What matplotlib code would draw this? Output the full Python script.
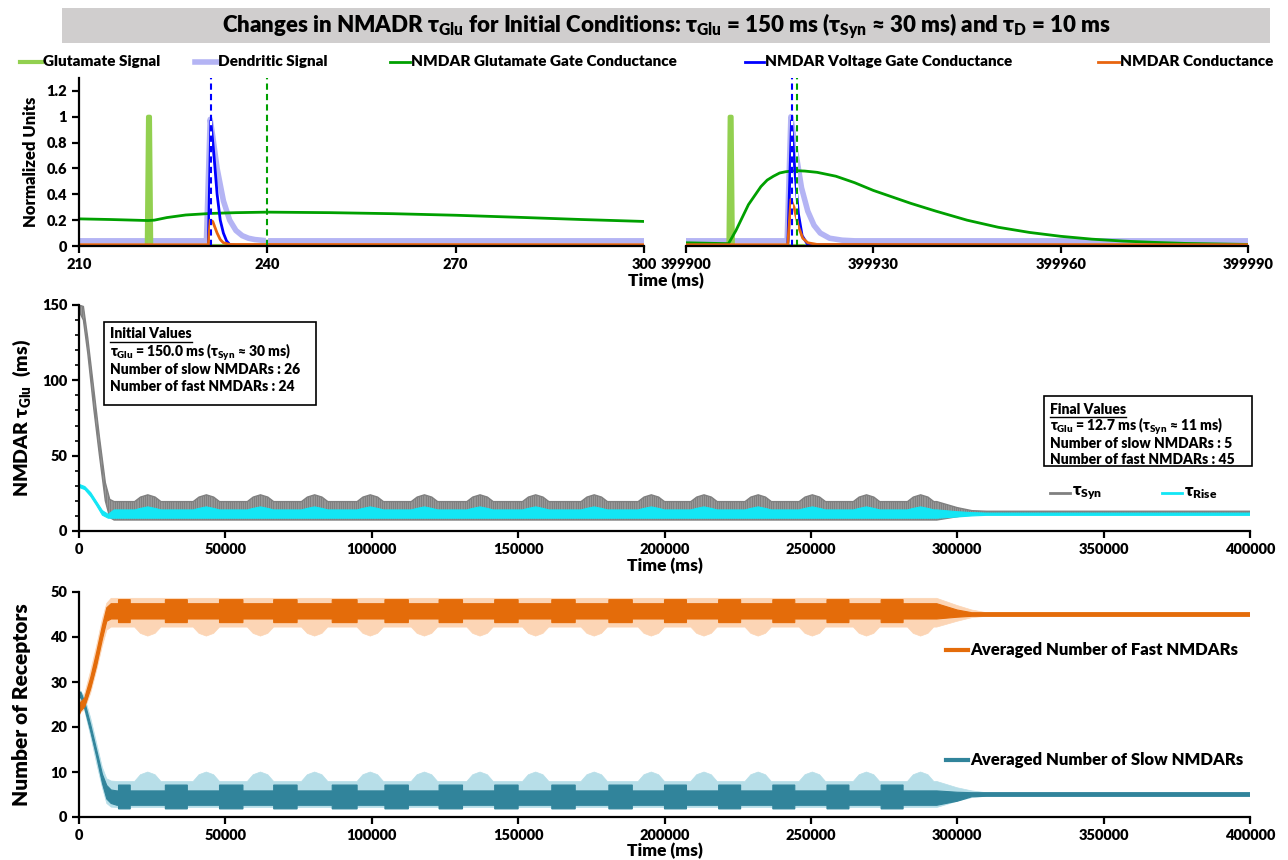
import matplotlib
matplotlib.use("Agg")
import matplotlib.pyplot as plt
from matplotlib.lines import Line2D
from matplotlib.patches import Rectangle
import numpy as np

plt.rcParams['font.family'] = ['Lato', 'DejaVu Sans']
plt.rcParams['font.weight'] = 'heavy'
plt.rcParams['mathtext.default'] = 'regular'
plt.rcParams['hatch.linewidth'] = 1.2

W, H = 1288, 860
BOLD = 'heavy'

# ---------------- top panels (single event traces) ----------------
glu_t_a = [210, 220.8, 221.0, 221.3, 221.5, 300]
glu_v_a = [0, 0, 1.0, 1.0, 0, 0]
dend_t_a = [210, 230.3, 230.9, 231.3, 232, 233, 234, 235, 236, 237, 238, 240, 300]
dend_v_a = [0.04, 0.04, 0.98, 0.85, 0.6, 0.35, 0.2, 0.12, 0.08, 0.06, 0.05, 0.04, 0.04]
gate_t_a = [210, 215, 221, 222, 224, 227, 231, 235, 240, 250, 260, 270, 280, 290, 300]
gate_v_a = [0.21, 0.205, 0.197, 0.2, 0.22, 0.24, 0.252, 0.258, 0.262, 0.258, 0.25, 0.238, 0.222, 0.205, 0.19]
volt_t_a = [210, 230.6, 231.0, 231.5, 232, 232.5, 233, 233.5, 234, 235, 300]
volt_v_a = [0.005, 0.005, 0.97, 0.7, 0.4, 0.2, 0.1, 0.04, 0.012, 0.005, 0.005]
cond_t_a = [210, 230.6, 230.9, 231.3, 232, 232.5, 233, 234, 300]
cond_v_a = [0.01, 0.01, 0.2, 0.19, 0.1, 0.05, 0.025, 0.012, 0.01]
volt_peak_a, gate_peak_a = 231, 240

glu_t_b = [399900, 399906.8, 399907.0, 399907.3, 399907.5, 399990]
glu_v_b = [0, 0, 1.0, 1.0, 0, 0]
dend_t_b = [399900, 399916.2, 399916.8, 399917.5, 399918.5, 399919.5, 399920.5, 399921.5, 399923, 399925, 399927, 399990]
dend_v_b = [0.04, 0.04, 1.0, 0.75, 0.45, 0.27, 0.16, 0.1, 0.06, 0.045, 0.04, 0.04]
gate_t_b = [399900, 399906.8, 399908, 399909, 399910, 399911, 399912, 399913, 399914, 399915, 399916,
            399917.5, 399919, 399921, 399924, 399927, 399930, 399933, 399936, 399940, 399945, 399950,
            399955, 399960, 399965, 399970, 399975, 399980, 399990]
gate_v_b = [0.025, 0.018, 0.12, 0.22, 0.32, 0.39, 0.46, 0.51, 0.54, 0.565, 0.575,
            0.583, 0.58, 0.57, 0.54, 0.49, 0.43, 0.38, 0.33, 0.27, 0.2, 0.145,
            0.105, 0.075, 0.053, 0.038, 0.028, 0.02, 0.012]
volt_t_b = [399900, 399916.3, 399916.9, 399917.4, 399918, 399918.6, 399919.5, 399990]
volt_v_b = [0.003, 0.003, 0.97, 0.6, 0.25, 0.08, 0.01, 0.003]
cond_t_b = [399900, 399916.3, 399916.8, 399917.3, 399918, 399918.7, 399919.5, 399921, 399990]
cond_v_b = [0.01, 0.01, 0.36, 0.3, 0.15, 0.06, 0.025, 0.012, 0.01]
volt_peak_b, gate_peak_b = 399917, 399917.8

# ---------------- long-run envelopes ----------------
bump_t = [23500, 43500, 62000, 80500, 99500, 118000, 137000, 156000, 176000,
          195500, 213500, 232000, 250500, 269000, 287500]
bump_dt = [-4500, -2500, 0, 2500, 4500]
blk_start = [13500, 29500, 48000, 66500, 86500, 104500, 123000, 142000, 161500,
             181000, 200000, 218500, 237000, 255500, 274000]
blk_end = [17500, 37000, 56000, 74500, 95000, 112500, 131000, 150000, 169500,
           189000, 207500, 226000, 244500, 263000, 281500]
end_t = [293000, 300000, 305000, 310000, 400000]

syn_t0 = [0, 1500, 3000, 5000, 7000, 9000, 10500, 12000]
syn_hi0 = [150, 149, 128, 95, 62, 32, 21, 19.5]
syn_lo0 = [146, 140, 118, 82, 50, 20, 9, 7.3]
syn_bump = [19.5, 22.5, 24, 22.5, 19.5]
syn_hi1 = [19.5, 15.5, 13.5, 13.1, 13.1]
syn_lo1 = [7.3, 9.5, 11.2, 11.9, 11.9]

rise_t0 = [0, 2000, 4000, 6000, 8000, 10000, 12000]
rise_hi0 = [31, 29.5, 25.5, 19.5, 13.5, 11, 14]
rise_lo0 = [29, 27.5, 23, 17, 10.5, 8.5, 8.5]
rise_bump = [14, 15, 16, 15, 14]
rise_hi1 = [14, 12.8, 12.2, 11.9, 11.9]
rise_lo1 = [8.5, 9.3, 10.0, 10.4, 10.4]

rec_t0 = [0, 600, 2000, 4000, 6000, 8000, 9500, 11000, 13000]
fastL_hi0 = [24.3, 26, 27.5, 32.5, 38, 44, 47.5, 48.6, 48.6]
fastL_lo0 = [22.5, 23.2, 24, 27.5, 32.5, 38, 41.5, 42.2, 42.2]
fastL_bump = [42.2, 40.8, 40.2, 40.8, 42.2]
fastL_hi1 = [48.6, 47, 46, 45.4, 45.4]
fastL_lo1 = [42.2, 43.5, 44.3, 44.6, 44.6]
fastD_hi0 = [24, 25.5, 26.5, 31, 36.5, 42.5, 46.5, 47.4, 47.4]
fastD_lo0 = [22.5, 23.5, 24.5, 28.5, 33.5, 39.5, 43.5, 44.0, 44.0]
fastD_blk = (48.3, 43.2)
fastD_hi1 = [47.4, 46.0, 45.4, 45.4, 45.4]
fastD_lo1 = [44.0, 44.4, 44.6, 44.6, 44.6]

slowL_hi0 = [27.2, 28, 26.5, 22, 16.5, 11, 8.5, 8, 7.9]
slowL_lo0 = [26, 26.5, 23.5, 18, 12, 6.5, 3, 2.2, 2.1]
slowL_bump = [7.9, 9.4, 10.0, 9.4, 7.9]
slowL_hi1 = [7.9, 6.5, 5.8, 5.4, 5.4]
slowL_lo1 = [2.1, 3.5, 4.3, 4.6, 4.6]
slowD_hi0 = [27, 27.8, 25.5, 20.5, 15, 9.5, 7, 6, 5.8]
slowD_lo0 = [26, 26.8, 24, 19, 13.5, 7.5, 4, 3, 2.6]
slowD_blk = (7.1, 1.8)
slowD_hi1 = [5.8, 5.5, 5.4, 5.4, 5.4]
slowD_lo1 = [2.6, 3.5, 4.5, 4.6, 4.6]

init_glu, init_syn, init_slow, init_fast = "150.0", "30", 26, 24
final_glu, final_syn, final_slow, final_fast = "12.7", "11", 5, 45

c_glu, c_dend, c_gate, c_volt, c_cond = '#92d050', '#b4b4f4', '#00a000', '#0000ff', '#e8650f'
c_syn, c_rise = '#808080', '#12e6f5'
c_fastD, c_fastL = '#e46c0a', '#fcd5b5'
c_slowD, c_slowL = '#31849b', '#b7dee8'


def bumped(profile):
    ts, vs = [], []
    for c in bump_t:
        for dt, v in zip(bump_dt, profile):
            ts.append(c + dt)
            vs.append(v)
    return ts, vs


def blocked(base, high):
    ts, vs = [], []
    for a, b in zip(blk_start, blk_end):
        ts += [a, a, b, b]
        vs += [base, high, high, base]
    return ts, vs


def band(ax, t0, lo0, hi0, mid_lo, mid_hi, lo1, hi1, **kw):
    th = list(t0) + mid_hi[0] + end_t
    vh = list(hi0) + mid_hi[1] + list(hi1)
    tl = list(t0) + mid_lo[0] + end_t
    vl = list(lo0) + mid_lo[1] + list(lo1)
    xs = np.r_[th, tl[::-1]]
    ys = np.r_[vh, vl[::-1]]
    return ax.fill(xs, ys, **kw)


fig = plt.figure(figsize=(W / 100, H / 100), dpi=100)


def ax_at(x0, y0, x1, y1):
    return fig.add_axes([x0 / W, 1 - y1 / H, (x1 - x0) / W, (y1 - y0) / H])


def style(ax, left=True):
    for s in ['top', 'right']:
        ax.spines[s].set_visible(False)
    ax.spines['bottom'].set_linewidth(1.6)
    ax.spines['left'].set_linewidth(1.6)
    if not left:
        ax.spines['left'].set_visible(False)
        ax.set_yticks([])
    ax.tick_params(width=1.6, length=5, labelsize=10.5)
    for lab in ax.get_xticklabels() + ax.get_yticklabels():
        lab.set_fontweight(BOLD)


# title
fig.add_artist(Rectangle((62 / W, 1 - 43 / H), (1270 - 62) / W, 35 / H,
                         transform=fig.transFigure, facecolor='#d0cece', edgecolor='none'))
fig.text(666 / W, 1 - 26 / H,
         "Changes in NMADR τ$_{Glu}$ for Initial Conditions: τ$_{Glu}$ = 150 ms (τ$_{Syn}$ ≈ 30 ms) and τ$_{D}$ = 10 ms",
         ha='center', va='center', fontsize=16, fontweight=BOLD)

# top legend
top_leg = [("Glutamate Signal", c_glu, 3, 20, 42),
           ("Dendritic Signal", c_dend, 4, 195, 217),
           ("NMDAR Glutamate Gate Conductance", c_gate, 2, 390, 410),
           ("NMDAR Voltage Gate Conductance", c_volt, 2, 745, 764),
           ("NMDAR Conductance", c_cond, 2, 1098, 1119)]
for lab, col, lw, hx0, hx1 in top_leg:
    fig.add_artist(Line2D([hx0 / W, hx1 / W], [1 - 62 / H] * 2, color=col, lw=lw,
                          transform=fig.transFigure))
    fig.text((hx1 + 1) / W, 1 - 62 / H, lab, ha='left', va='center', fontsize=11, fontweight=BOLD)

# top-left
axa = ax_at(79, 78, 644, 246)
axa.plot(dend_t_a, dend_v_a, color=c_dend, lw=4)
axa.plot(glu_t_a, glu_v_a, color=c_glu, lw=3)
axa.plot(gate_t_a, gate_v_a, color=c_gate, lw=2)
axa.plot(volt_t_a, volt_v_a, color=c_volt, lw=2)
axa.plot(cond_t_a, cond_v_a, color=c_cond, lw=2)
for xv, col in [(volt_peak_a, c_volt), (gate_peak_a, c_gate)]:
    axa.axvline(xv, color='white', lw=1.5)
    axa.axvline(xv, color=col, lw=1.5, ls=(0, (3, 2)))
axa.set_xlim(210, 300)
axa.set_ylim(0, 1.3)
axa.set_xticks([210, 240, 270, 300])
axa.set_yticks([0, 0.2, 0.4, 0.6, 0.8, 1.0, 1.2])
axa.set_yticklabels(['0', '0.2', '0.4', '0.6', '0.8', '1', '1.2'])
axa.set_ylabel("Normalized Units", fontsize=12, fontweight=BOLD)
axa.yaxis.set_label_coords(-0.07, 0.5)
style(axa)

# top-right
axb = ax_at(686, 78, 1248, 246)
axb.plot(dend_t_b, dend_v_b, color=c_dend, lw=4)
axb.plot(glu_t_b, glu_v_b, color=c_glu, lw=3)
axb.plot(gate_t_b, gate_v_b, color=c_gate, lw=2)
axb.plot(volt_t_b, volt_v_b, color=c_volt, lw=2)
axb.plot(cond_t_b, cond_v_b, color=c_cond, lw=2)
for xv, col in [(volt_peak_b, c_volt), (gate_peak_b, c_gate)]:
    axb.axvline(xv, color='white', lw=1.5)
    axb.axvline(xv, color=col, lw=1.5, ls=(0, (3, 2)))
axb.set_xlim(399900, 399990)
axb.set_ylim(0, 1.3)
axb.set_xticks([399900, 399930, 399960, 399990])
axb.ticklabel_format(useOffset=False, style='plain', axis='x')
style(axb, left=False)
fig.text(666 / W, 1 - 281 / H, "Time (ms)", ha='center', va='center', fontsize=12.5, fontweight=BOLD)

# middle
axm = ax_at(79, 305, 1250, 531)
band(axm, syn_t0, syn_lo0, syn_hi0, ([], []), bumped(syn_bump), syn_lo1, syn_hi1,
     facecolor='none', edgecolor=c_syn, hatch='|' * 9, linewidth=0)
band(axm, syn_t0, syn_lo0, syn_hi0, ([], []), bumped(syn_bump), syn_lo1, syn_hi1,
     facecolor='none', edgecolor=c_syn, linewidth=1.0)
band(axm, rise_t0, rise_lo0, rise_hi0, ([], []), bumped(rise_bump), rise_lo1, rise_hi1,
     facecolor=c_rise, edgecolor=c_rise, linewidth=0.8)
axm.set_xlim(0, 400000)
axm.set_ylim(0, 150)
axm.set_xticks(np.arange(0, 400001, 50000))
axm.set_yticks([0, 50, 100, 150])
axm.set_yticks(np.arange(0, 151, 10), minor=True)
axm.tick_params(which='minor', length=3, width=1.2)
axm.set_ylabel("NMDAR τ$_{Glu}$  (ms)", fontsize=14, fontweight=BOLD)
axm.yaxis.set_label_coords(-0.039, 0.5)
axm.set_xlabel("Time (ms)", fontsize=12.5, fontweight=BOLD)
axm.xaxis.set_label_coords(0.5, -0.12)
style(axm)

axm.add_patch(Rectangle((0.0213, 0.558), 0.181, 0.367, transform=axm.transAxes,
                        facecolor='white', edgecolor='black', lw=1.2, zorder=5))
axm.add_patch(Rectangle((0.824, 0.288), 0.178, 0.309, transform=axm.transAxes,
                        facecolor='white', edgecolor='black', lw=1.2, zorder=5, clip_on=False))
init_lines = ["Initial Values",
              f"τ$_{{Glu}}$ = {init_glu} ms (τ$_{{Syn}}$ ≈ {init_syn} ms)",
              f"Number of slow NMDARs : {init_slow}",
              f"Number of fast NMDARs : {init_fast}"]
final_lines = ["Final Values",
               f"τ$_{{Glu}}$ = {final_glu} ms (τ$_{{Syn}}$ ≈ {final_syn} ms)",
               f"Number of slow NMDARs : {final_slow}",
               f"Number of fast NMDARs : {final_fast}"]
heads = []
for lines, x0, ys in [(init_lines, 110, [334, 352, 370, 387]), (final_lines, 1050, [409, 426, 443, 459])]:
    for i, (s, yy) in enumerate(zip(lines, ys)):
        t = fig.text(x0 / W, 1 - yy / H, s, ha='left', va='center', fontsize=10,
                     fontweight=BOLD, zorder=6)
        if i == 0:
            heads.append(t)

mid_leg = [("τ$_{Syn}$", c_syn, 1050, 1070), ("τ$_{Rise}$", c_rise, 1162, 1182)]
for lab, col, hx0, hx1 in mid_leg:
    fig.add_artist(Line2D([hx0 / W, hx1 / W], [1 - 493 / H] * 2, color=col, lw=2,
                          transform=fig.transFigure))
    fig.text((hx1 + 2) / W, 1 - 493 / H, lab, ha='left', va='center', fontsize=12.5, fontweight=BOLD)

# bottom
axr = ax_at(79, 592, 1250, 817)
band(axr, rec_t0, fastL_lo0, fastL_hi0, bumped(fastL_bump), ([], []), fastL_lo1, fastL_hi1,
     facecolor=c_fastL, edgecolor=c_fastL, linewidth=0.5)
band(axr, rec_t0, slowL_lo0, slowL_hi0, ([], []), bumped(slowL_bump), slowL_lo1, slowL_hi1,
     facecolor=c_slowL, edgecolor=c_slowL, linewidth=0.5)
band(axr, rec_t0, slowD_lo0, slowD_hi0, blocked(slowD_lo0[-1], slowD_blk[1]),
     blocked(slowD_hi0[-1], slowD_blk[0]), slowD_lo1, slowD_hi1,
     facecolor=c_slowD, edgecolor=c_slowD, linewidth=0.8)
band(axr, rec_t0, fastD_lo0, fastD_hi0, blocked(fastD_lo0[-1], fastD_blk[1]),
     blocked(fastD_hi0[-1], fastD_blk[0]), fastD_lo1, fastD_hi1,
     facecolor=c_fastD, edgecolor=c_fastD, linewidth=0.8)
axr.set_xlim(0, 400000)
axr.set_ylim(0, 50)
axr.set_xticks(np.arange(0, 400001, 50000))
axr.set_yticks(np.arange(0, 51, 10))
axr.set_ylabel("Number of Receptors", fontsize=15, fontweight=BOLD)
axr.yaxis.set_label_coords(-0.041, 0.5)
axr.set_xlabel("Time (ms)", fontsize=12.5, fontweight=BOLD)
axr.xaxis.set_label_coords(0.5, -0.115)
style(axr)

bot_leg = [("Averaged Number of Fast NMDARs", c_fastD, 650), ("Averaged Number of Slow NMDARs", c_slowD, 760)]
for lab, col, yy in bot_leg:
    fig.add_artist(Line2D([946 / W, 968 / W], [1 - yy / H] * 2, color=col, lw=3,
                          transform=fig.transFigure))
    fig.text(970 / W, 1 - yy / H, lab, ha='left', va='center', fontsize=12, fontweight=BOLD)

# underline box headings
fig.canvas.draw()
r = fig.canvas.get_renderer()
for t in heads:
    bb = t.get_window_extent(r)
    yline = bb.y0 - 1
    fig.add_artist(Line2D([bb.x0 / W, bb.x1 / W], [yline / H] * 2, color='black', lw=1,
                          transform=fig.transFigure, zorder=7))

fig.savefig("out.png", dpi=100)
